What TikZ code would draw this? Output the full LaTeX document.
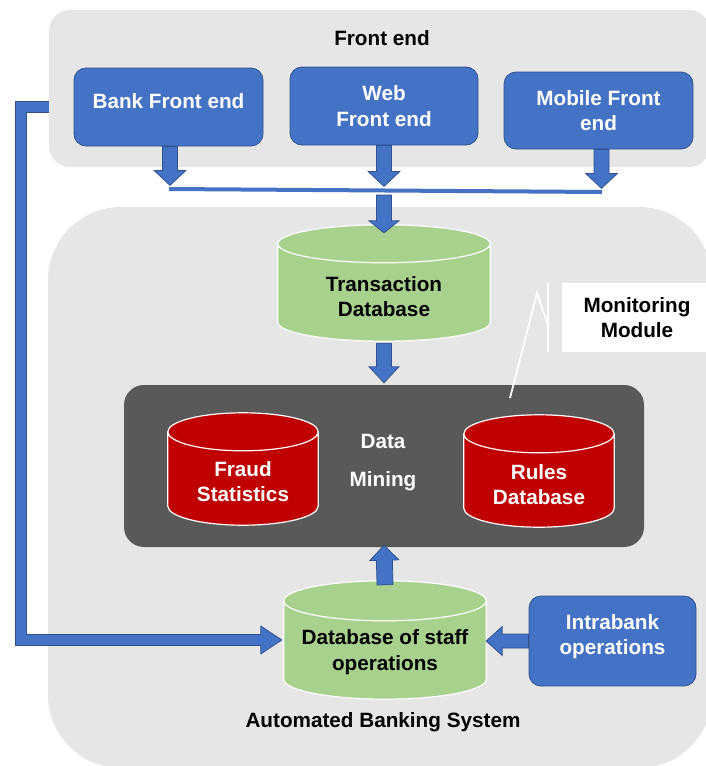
\documentclass[tikz,border=0pt]{standalone}
\usepackage{fontspec}
\setmainfont{Liberation Sans}
\usetikzlibrary{calc}
\definecolor{pblue}{HTML}{4472C4}
\definecolor{dblue}{HTML}{2F528F}
\definecolor{panelg}{HTML}{E7E6E6}
\definecolor{pgreen}{HTML}{A9D18E}
\definecolor{pred}{HTML}{C00000}
\definecolor{dgrey}{HTML}{595959}
% block arrow: tail, tip, shaft half width, head half width, head length
\newcommand\blockarrow[5]{%
  \coordinate (bacc) at ($(#2)!#5!(#1)$);
  \draw[blk] ($(#1)!#3!90:(#2)$) -- ($(bacc)!#3!90:(#2)$) -- ($(bacc)!#4!90:(#2)$) -- (#2)
    -- ($(bacc)!#4!-90:(#2)$) -- ($(bacc)!#3!-90:(#2)$) -- ($(#1)!#3!-90:(#2)$) -- cycle;}
% cylinder drawn in the box of a node: node, fill, ellipse half height
\newcommand\cylshape[3]{%
  \path[draw=white, line width=1.2pt, fill=#2] let \p1=(#1.north west), \p2=(#1.south east),
    \n1={(\x2-\x1)/2} in
    (\x1,\y1-#3) -- (\x1,\y2+#3) arc[start angle=180, end angle=360, x radius=\n1, y radius=#3]
    -- (\x2,\y1-#3) arc[start angle=0, end angle=180, x radius=\n1, y radius=#3] -- cycle
    (\x1,\y1-#3) arc[start angle=180, end angle=360, x radius=\n1, y radius=#3];}
\begin{document}
\begin{tikzpicture}[x=1pt,y=-1pt,
  every node/.style={font=\fontsize{20.7}{25.5}\selectfont\bfseries, align=center, inner sep=0pt},
  panel/.style={rectangle, fill=panelg},
  fbox/.style={rectangle, rounded corners=12pt, fill=pblue, draw=dblue, line width=0.8pt, text=white},
  blk/.style={fill=pblue, draw=dblue, line width=0.75pt, line join=miter},
  callout/.style={draw=white, line width=1.8pt}]
\useasboundingbox (0,0) rectangle (706,766);
\fill[white] (0,0) rectangle (706,766);
% panels
\node[panel, rounded corners=21pt, minimum width=661pt, minimum height=157pt] (fpanel) at (379.5,88.5) {};
\node[panel, rounded corners=73pt, minimum width=664pt, minimum height=561pt] (abs) at (380,487.5) {};
\node (fetitle) at (382,38) {Front end};
\node (abstitle) at (383,722) {Automated Banking System};
% front end boxes
\node[fbox, minimum width=189pt, minimum height=78pt,
  label={[text=white, yshift=6pt]center:Bank Front end}] (bank) at (168.5,107) {};
\node[fbox, minimum width=188pt, minimum height=78pt] (web) at (384,106) {Web\\Front end};
\node[fbox, minimum width=189pt, minimum height=77pt] (mobile) at (598.5,110.5) {Mobile Front\\end};
\node[fbox, minimum width=167pt, minimum height=90pt,
  label={[text=white, yshift=4.5pt]center:Intrabank\\operations}] (intra) at (612.5,641) {};
% data mining block
\node[rectangle, rounded corners=20pt, fill=dgrey, minimum width=520pt, minimum height=162pt] (dm) at (384,466) {};
\node[text=white] (dmtext) at (383,463) {Data\\[12.5pt]Mining};
% cylinders
\node[rectangle, minimum width=212pt, minimum height=116pt] (trans) at (384,283) {};
\cylshape{trans}{pgreen}{19pt}
\node (transT) at ([yshift=-13.5pt]trans.center) {Transaction\\Database};
\node[rectangle, minimum width=150pt, minimum height=112pt] (fraud) at (243,469) {};
\cylshape{fraud}{pred}{19pt}
\node[text=white] (fraudT) at ([yshift=-12.5pt]fraud.center) {Fraud\\Statistics};
\node[rectangle, minimum width=150pt, minimum height=112pt] (rules) at (539,471) {};
\cylshape{rules}{pred}{19pt}
\node[text=white] (rulesT) at ([yshift=-13.5pt]rules.center) {Rules\\Database};
\node[rectangle, minimum width=202pt, minimum height=118pt] (staff) at (385,640) {};
\cylshape{staff}{pgreen}{20pt}
\node (staffT) at ([yshift=-12pt]staff.center) {Database of staff\\operations};
% monitoring module callout
\node[rectangle, fill=white, minimum width=150pt, minimum height=69pt] (mon) at (637,317.5) {Monitoring\\Module};
\coordinate (cp) at (510,398);
\coordinate (ca) at (537,293);
\draw[callout] ([xshift=-14pt]mon.north west) -- ([xshift=-14pt]mon.south west);
\draw[callout, line join=miter] (cp) -- (ca) -- ([xshift=-14pt,yshift=-7pt]mon.west);
% bus line
\coordinate (busL) at (169,189);
\coordinate (busR) at (602,192);
\coordinate (busM) at ($(busL)!0.5!(busR)$);
\draw[pblue, line width=4pt] (busL) -- (busR);
% arrows from front end boxes to the bus
\coordinate (b0) at ([xshift=1.5pt]bank.south);
\coordinate (b1) at ([xshift=1.5pt,yshift=-39pt]bank.south);
\blockarrow{b0}{b1}{7.5pt}{16pt}{15pt}
\coordinate (w0) at (web.south);
\coordinate (w1) at ([yshift=-41pt]web.south);
\blockarrow{w0}{w1}{7.5pt}{16pt}{15pt}
\coordinate (m0) at ([xshift=3pt]mobile.south);
\coordinate (m1) at ([xshift=3pt,yshift=-39pt]mobile.south);
\blockarrow{m0}{m1}{7.5pt}{16pt}{15pt}
% bus to transaction database
\path (trans.north |- busM) ++(0,4.5) coordinate (t0);
\coordinate (t1) at ([yshift=-8pt]trans.north);
\blockarrow{t0}{t1}{7.5pt}{15pt}{12pt}
% transaction database to data mining
\coordinate (d0) at ([yshift=-2pt]trans.south);
\coordinate (d1) at ([yshift=2pt]dm.north);
\blockarrow{d0}{d1}{7.5pt}{15pt}{16pt}
% staff database to data mining
\coordinate (s0) at ([yshift=-4pt]staff.north);
\coordinate (s1) at ([yshift=2pt]dm.south);
\blockarrow{s0}{s1}{8pt}{14.5pt}{15pt}
% intrabank operations to staff database
\coordinate (i0) at (intra.west);
\coordinate (i1) at (staff.east |- intra.west);
\blockarrow{i0}{i1}{7pt}{14.5pt}{16pt}
% bank front end to staff database
\coordinate (lt) at ([xshift=-2pt]staff.west);
\draw[dblue, line width=0.75pt, double=pblue, double distance=10.5pt, line join=miter]
  (fpanel.west |- bank.west) -- ++(-28,0) |- ($(lt)+(-21,0)$);
\path[blk] ($(lt)+(-21,-5.625)$) -- ($(lt)+(-21,-14)$) -- (lt) -- ($(lt)+(-21,14)$) -- ($(lt)+(-21,5.625)$);
\end{tikzpicture}
\end{document}
